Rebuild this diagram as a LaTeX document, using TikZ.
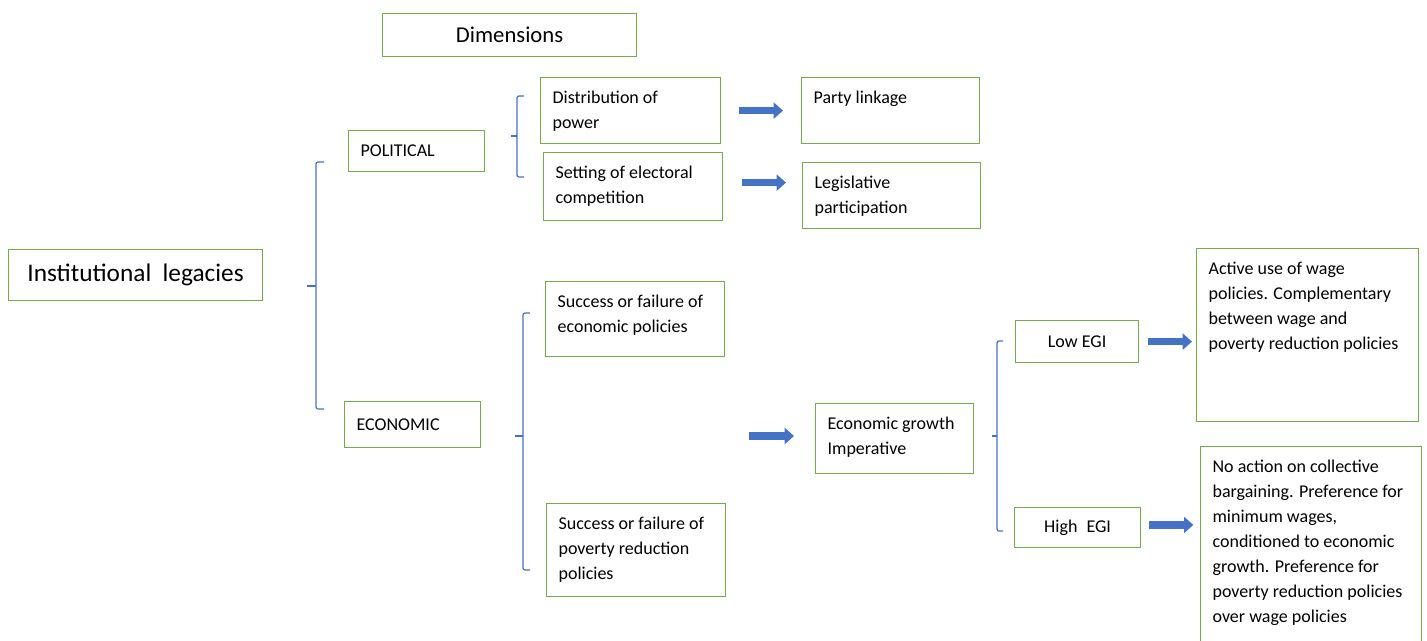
\documentclass[tikz,border=0pt]{standalone}
\usepackage{fontspec}
\setmainfont{Carlito}
\usetikzlibrary{positioning,arrows.meta,calc}
\definecolor{boxgreen}{HTML}{70AD47}
\definecolor{bracketblue}{HTML}{4472C4}
\definecolor{arrowblue}{HTML}{4472C4}

\begin{document}
\begin{tikzpicture}[x=0.75pt, y=-0.75pt,
      box/.style={draw=boxgreen, line width=0.9pt, anchor=north west, font=\fontsize{13.5}{18.75}\selectfont},
      cell/.style 2 args={box, inner xsep=9pt, inner ysep=6pt,
        execute at begin node={\begin{minipage}[c][#2][t]{#1}\raggedright\strut},
        execute at end node={\end{minipage}}},
      bracket/.style={draw=bracketblue, line width=0.9pt, rounded corners=1.5pt},
      fat/.style={draw=arrowblue, line width=5.5pt, -{Triangle[width=12pt,length=7pt]}}
      ]
      \useasboundingbox (0,0) rectangle (1427,640);

      % Titres
      \node[box, minimum width=190.5pt, minimum height=32.25pt, font=\fontsize{17}{20}\selectfont] (dims) at (382,13) {Dimensions};
      \node[box, minimum width=190.5pt, minimum height=38.25pt, font=\fontsize{19}{23}\selectfont] (legacies) at (8,249) {Institutional\hspace{0.45em}legacies};

      % Dimensions
      \node[box, minimum width=102pt, minimum height=30.75pt, inner xsep=9pt, text width=84pt, align=left] (political) at (348,130) {POLITICAL};
      \node[box, minimum width=102pt, minimum height=34.5pt, inner xsep=9pt, text width=84pt, align=left] (economic) at (344,401) {ECONOMIC};

      % Politique
      \node[cell={117pt}{37.5pt}] (dist) at (540,77) {Distribution of\\ power};
      \node[cell={116.25pt}{39pt}] (setting) at (543,152) {Setting of electoral\\ competition};
      \node[cell={115.5pt}{37.5pt}] (party) at (801,77) {Party linkage};
      \node[cell={115.5pt}{37.5pt}] (legis) at (802,162) {Legislative\\ participation};

      % Economique
      \node[cell={116.25pt}{44.25pt}] (succecon) at (545,281) {Success or failure of\\ economic policies};
      \node[cell={116.25pt}{57.75pt}] (succpov) at (546,503) {Success or failure of\\ poverty reduction\\ policies};
      \node[cell={100.5pt}{40.5pt}] (growth) at (815,403) {Economic growth\\ Imperative};
      \node[box, minimum width=92.25pt, minimum height=31.5pt] (low) at (1015,320) {Low EGI};
      \node[box, minimum width=94.5pt, minimum height=30pt] (high) at (1014,507) {High\hspace{0.5em}EGI};
      \node[cell={148.5pt}{117.75pt}] (active) at (1196,248) {Active use of wage\\ policies. Complementary\\ between wage and\\ poverty reduction policies};
      \node[cell={147.75pt}{148.5pt}] (noaction) at (1200,446) {No action on collective\\ bargaining. Preference for\\ minimum wages,\\ conditioned to economic\\ growth. Preference for\\ poverty reduction policies\\ over wage policies};

      % Accolades
      \draw[bracket] (324,162) -- (316,162) -- (316,409) -- (324,409);
      \draw[bracket] (316,286) -- (307,286);
      \draw[bracket] (524,96) -- (517,96) -- (517,177) -- (524,177);
      \draw[bracket] (517,136) -- (511,136);
      \draw[bracket] (530,313) -- (523,313) -- (523,570) -- (530,570);
      \draw[bracket] (523,436) -- (515,436);
      \draw[bracket] (1003,341) -- (997,341) -- (997,531) -- (1003,531);
      \draw[bracket] (997,436) -- (992,436);

      % Fleches
      \coordinate (growthin) at (749,436);
      \draw[fat, shorten <=13.5pt, shorten >=13.5pt] (dist.east) -- (party.west);
      \draw[fat, shorten <=14pt, shorten >=12pt] ([yshift=3pt]setting.east) -- ([yshift=3pt]setting.east -| legis.west);
      \draw[fat, shorten >=15.75pt] (growthin) -- (growthin -| growth.west);
      \draw[fat, shorten <=6.75pt, shorten >=3pt] (low.east) -- (low.east -| active.west);
      \draw[fat, shorten <=6pt, shorten >=5pt] ([yshift=2pt]high.east) -- ([yshift=2pt]high.east -| noaction.west);
    \end{tikzpicture}
\end{document}
